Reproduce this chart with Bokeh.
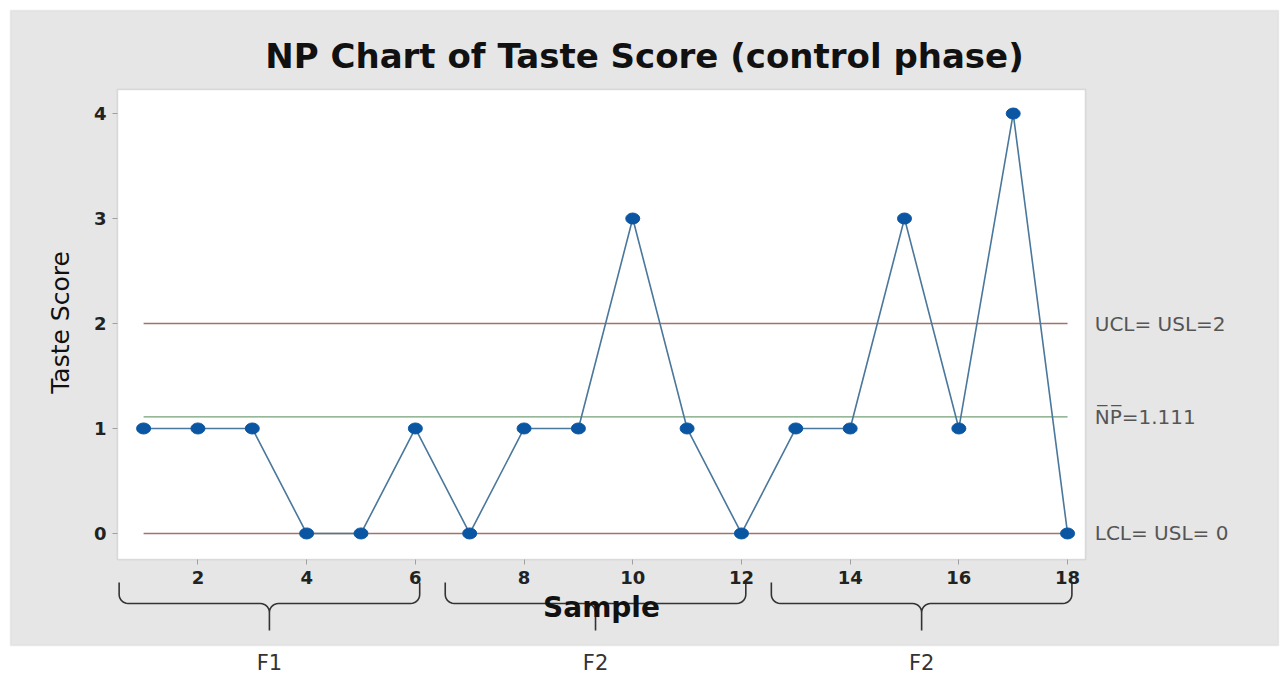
import numpy as np
from bokeh.plotting import figure
from bokeh.models import (ColumnDataSource, Label, BoxAnnotation, Range1d,
                          FixedTicker)
from bokeh.embed import file_html
from bokeh.resources import INLINE

# ---------------- data ----------------
samples = list(range(1, 19))
taste_np = [1, 1, 1, 0, 0, 1, 0, 1, 1, 3, 1, 0, 1, 1, 3, 1, 4, 0]
ucl = 2
center = 1.111
lcl = 0
limit_values = [ucl, center, lcl]
limit_labels = ["UCL= USL=2", "N\u0305P\u0305=1.111", "LCL= USL= 0"]
group_names = ["F1", "F2", "F2"]
group_first = [1, 7, 13]
group_last = [6, 12, 18]
x_ticks = [2, 4, 6, 8, 10, 12, 14, 16, 18]
y_ticks = [0, 1, 2, 3, 4]
title_text = "NP Chart of Taste Score (control phase)"
x_label = "Sample"
y_label = "Taste Score"

# ---------------- geometry ----------------
W, H = 1280, 678
# plot box (pixels on canvas) and its data extents
BX0, BX1, BY0, BY1 = 117, 1085, 89, 559
XLO, XHI, YLO, YHI = 0.52, 18.33, -0.248, 4.229
sx = (BX1 - BX0) / (XHI - XLO)
sy = (BY1 - BY0) / (YHI - YLO)

def X(px):
    return XLO + (px - BX0) / sx

def Y(py):
    return YHI - (py - BY0) / sy

p = figure(width=W, height=H, min_border=0, title_location=None,
           x_range=Range1d(X(0), X(W)), y_range=Range1d(Y(H), Y(0)),
           output_backend="svg", toolbar_location=None,
           background_fill_color="white", border_fill_color="white")
p.outline_line_color = None
p.grid.visible = False

# gray panel and white plot box
p.add_layout(BoxAnnotation(left=X(10), right=X(1278), top=Y(10), bottom=Y(645),
                           fill_color="#e6e6e6", fill_alpha=1.0,
                           line_color="#cccccc", line_width=1.5,
                           level="underlay"))
p.add_layout(BoxAnnotation(left=XLO, right=XHI, top=YHI, bottom=YLO,
                           fill_color="white", fill_alpha=1.0,
                           line_color="#a0a0a0", line_width=1.6,
                           level="underlay"))

# axes drawn at the plot box edges
xa, ya = p.xaxis[0], p.yaxis[0]
xa.fixed_location = YLO
ya.fixed_location = XLO
xa.bounds = (XLO, XHI)
ya.bounds = (YLO, YHI)
xa.ticker = FixedTicker(ticks=x_ticks)
ya.ticker = FixedTicker(ticks=y_ticks)
for ax in (xa, ya):
    ax.axis_line_color = None
    ax.major_tick_line_color = "#a0a0a0"
    ax.major_tick_line_width = 1
    ax.major_tick_out = 5
    ax.major_tick_in = 0
    ax.minor_tick_line_color = None
    ax.major_label_text_font = "DejaVu Sans"
    ax.major_label_text_font_style = "bold"
    ax.major_label_text_font_size = "18px"
    ax.major_label_text_color = "#222222"
    ax.major_label_standoff = 6

# titles / axis labels
p.add_layout(Label(x=X(644), y=Y(55), text=title_text, text_align="center",
                   text_baseline="middle", text_font="DejaVu Sans",
                   text_font_style="bold", text_font_size="34px",
                   text_color="#111111"))
p.add_layout(Label(x=X(601), y=Y(607), text=x_label, text_align="center",
                   text_baseline="middle", text_font="DejaVu Sans",
                   text_font_style="bold", text_font_size="28px",
                   text_color="#111111"))
p.add_layout(Label(x=X(60), y=Y(322), text=y_label, text_align="center",
                   text_baseline="middle", angle=np.pi / 2,
                   text_font="DejaVu Sans", text_font_size="25px",
                   text_color="#111111"))

# limit lines
first, last = samples[0], samples[-1]
p.line([first, last], [ucl, ucl], line_color="#9e746d", line_width=1.6)
p.line([first, last], [lcl, lcl], line_color="#9e746d", line_width=1.6)
p.line([first, last], [center, center], line_color="#74a076", line_width=1.3)

# data
src = ColumnDataSource(dict(x=samples, y=taste_np))
p.line("x", "y", source=src, line_color="#4a779c", line_width=1.6)
p.ellipse("x", "y", source=src, width=14, height=11,
          width_units="screen", height_units="screen",
          fill_color="#0b56a3", line_color="#0b56a3")

# right-hand limit labels
for v, t in zip(limit_values, limit_labels):
    p.add_layout(Label(x=last + 0.5, y=v, text=t, text_baseline="middle",
                       text_align="left", text_font="DejaVu Sans",
                       text_font_size="20px", text_color="#555555"))

# braces and group labels
rx = 9 / sx
ry = 9 / sy

def arc(cx, cy, a0, a1, n=8):
    t = np.radians(np.linspace(a0, a1, n))
    return list(cx + rx * np.cos(t)), list(cy + ry * np.sin(t))

brace_xs, brace_ys = [], []
for name, g0, g1 in zip(group_names, group_first, group_last):
    x0 = g0 - 0.45
    x1 = g1 + 0.08
    xt = (x0 + x1) / 2
    ytop, ymid, ytip = Y(582), Y(603), Y(630)
    xs, ys = [x0], [ytop]
    a, b = arc(x0 + rx, ymid + ry, 180, 270); xs += a; ys += b
    a, b = arc(xt - rx, ymid - ry, 90, 0); xs += a; ys += b
    xs.append(xt); ys.append(ytip)
    xs.append(xt); ys.append(ymid - ry)
    a, b = arc(xt + rx, ymid - ry, 180, 90); xs += a; ys += b
    a, b = arc(x1 - rx, ymid + ry, 270, 360); xs += a; ys += b
    xs.append(x1); ys.append(ytop)
    brace_xs.append(xs)
    brace_ys.append(ys)
    p.add_layout(Label(x=xt, y=Y(662), text=name, text_align="center",
                       text_baseline="middle", text_font="DejaVu Sans",
                       text_font_size="21px", text_color="#333333"))
p.multi_line(brace_xs, brace_ys, line_color="#333333", line_width=1.6)

open("out.html", "w").write(file_html(p, INLINE))
